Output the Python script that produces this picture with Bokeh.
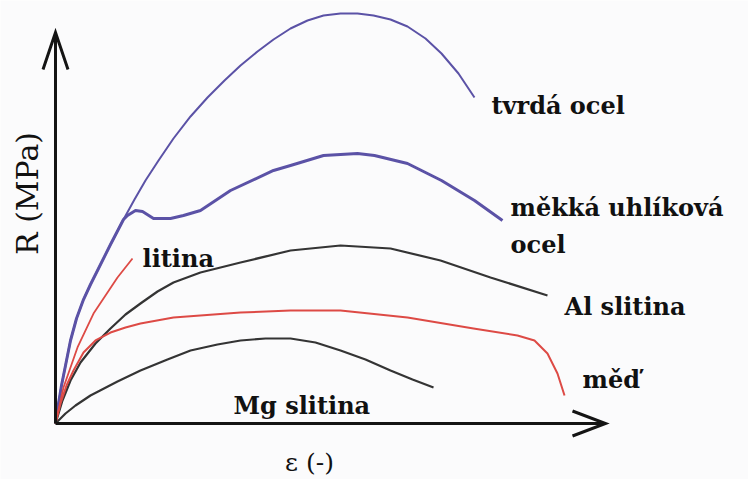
import math
from bokeh.plotting import figure
from bokeh.models import Range1d, ColumnDataSource
from bokeh.core.properties import value
from bokeh.embed import file_html
from bokeh.resources import INLINE

# ---- data (schematic stress-strain curves, arbitrary units: strain 0..100, stress 0..100) ----
tvrda_x = [0, 0.55, 1.09, 1.82, 2.73, 3.82, 5.09, 6.36, 7.82, 10.0, 12.36, 14.36, 16.36, 18.73, 21.45, 24.55,
           27.64, 30.73, 33.64, 36.73, 39.64, 42.73, 45.82, 48.73, 51.82, 54.91, 57.82, 60.91, 64.0, 67.27,
           70.18, 73.27, 76.18]
tvrda_y = [0, 5.12, 9.72, 14.83, 21.23, 26.85, 31.71, 35.55, 39.64, 45.78, 52.17, 57.29, 62.15, 67.26, 72.89, 78.52,
           83.38, 87.72, 91.56, 95.14, 98.21, 101.02, 103.07, 104.35, 104.86, 104.86, 104.35, 103.32, 101.53, 98.47,
           94.63, 89.51, 83.38]

mekka_x = [0, 0.55, 1.09, 1.82, 2.73, 3.82, 5.09, 6.36, 7.82, 10.0, 12.36, 13.09, 14.55, 15.82, 17.82, 20.91,
           23.27, 26.36, 31.82, 39.64, 42.73, 48.73, 54.91, 58.0, 64.0, 70.18, 76.18, 81.27]
mekka_y = [0, 5.12, 9.72, 14.83, 21.23, 26.85, 31.71, 35.55, 39.64, 45.78, 52.17, 53.20, 54.48, 54.22, 52.43, 52.43,
           53.20, 54.48, 59.59, 64.71, 65.98, 68.54, 69.05, 68.54, 66.50, 62.15, 57.03, 51.92]

litina_x = [0, 0.73, 1.45, 4.0, 6.91, 11.27, 14.0]
litina_y = [0, 4.60, 9.21, 19.44, 28.13, 37.34, 42.2]

al_x = [0, 1.27, 2.73, 4.55, 7.27, 10.0, 12.73, 15.45, 18.55, 21.45, 26.36, 33.64, 42.73, 51.82, 60.91, 70.0,
        79.09, 89.45]
al_y = [0, 5.88, 11.0, 15.6, 20.46, 24.3, 27.88, 30.69, 33.76, 36.06, 38.62, 41.18, 44.25, 45.52, 44.76, 41.69,
        37.34, 32.74]

med_x = [0, 0.91, 2.0, 3.27, 5.09, 7.27, 10.0, 12.73, 15.45, 21.45, 33.64, 42.73, 51.82, 64.0, 76.0, 84.0,
         87.09, 89.45, 91.27, 92.55]
med_y = [0, 5.12, 9.72, 13.55, 18.16, 21.23, 23.27, 24.55, 25.58, 27.11, 28.39, 28.90, 28.90, 27.11, 24.30, 22.51,
         21.23, 17.90, 12.79, 7.16]

mg_x = [0, 1.82, 3.64, 6.36, 11.27, 15.45, 20.36, 24.55, 29.45, 33.64, 38.18, 42.73, 47.27, 51.82, 56.36, 60.91,
        64.91, 68.73]
mg_y = [0, 2.56, 4.60, 7.16, 10.74, 13.55, 16.37, 18.67, 20.20, 21.23, 21.74, 21.74, 20.72, 18.67, 16.37, 13.55,
        11.25, 9.21]

label_text = ["tvrdá ocel", "měkká uhlíková", "ocel", "litina", "Al slitina", "měď", "Mg slitina"]
label_x = [79.27, 82.73, 82.73, 15.82, 92.55, 95.82, 32.36]
label_y = [81.3, 55.2, 45.8, 42.2, 29.9, 11.25, 4.6]

axis_max_x = 100
axis_max_y = 100
x_title = "ε (-)"
y_title = "R (MPa)"

# ---- figure ----
W, H = 748, 479
sx, sy = 5.5, 3.91            # px per data unit
ox, oy = 55, 423              # origin position in px (from top-left)
x0, x1 = -ox / sx, (W - ox) / sx
y0, y1 = -(H - oy) / sy, oy / sy

p = figure(width=W, height=H, output_backend="svg", toolbar_location=None,
           x_range=Range1d(x0, x1), y_range=Range1d(y0, y1),
           x_axis_type=None, y_axis_type=None, min_border=0,
           background_fill_color="#fbfbfc", border_fill_color="#fbfbfc",
           outline_line_color=None)
p.xgrid.visible = False
p.ygrid.visible = False

BLUE = "#5b52a6"
BLACK = "#343434"
RED = "#dd4a45"

p.line(tvrda_x, tvrda_y, line_color=BLUE, line_width=2.0, line_join="round")
p.line(mekka_x, mekka_y, line_color=BLUE, line_width=3.0, line_join="round")
p.line(al_x, al_y, line_color=BLACK, line_width=2.2, line_join="round")
p.line(mg_x, mg_y, line_color=BLACK, line_width=2.2, line_join="round")
p.line(med_x, med_y, line_color=RED, line_width=2.0, line_join="round")
p.line(litina_x, litina_y, line_color=RED, line_width=1.8, line_join="round")

# axes with open arrow heads
AX = "#141414"
p.line([0, 0], [0, axis_max_y], line_color=AX, line_width=3)
p.line([0, axis_max_x], [0, 0], line_color=AX, line_width=3)
hl, hw = 37, 12.5
p.line([-hw / sx, 0, hw / sx], [axis_max_y - hl / sy, axis_max_y, axis_max_y - hl / sy],
       line_color=AX, line_width=3, line_join="miter")
hl2 = 33
p.line([axis_max_x - hl2 / sx, axis_max_x, axis_max_x - hl2 / sx], [hw / sy, 0, -hw / sy],
       line_color=AX, line_width=3, line_join="miter")

src = ColumnDataSource(dict(x=label_x, y=label_y, t=label_text))
p.text("x", "y", text="t", source=src, text_font=value("DejaVu Serif"),
       text_font_style="bold", text_font_size="24px", text_color="#111111",
       text_align="left", text_baseline="alphabetic")

p.text([-28 / sx], [230 / sy], text=[y_title], angle=math.pi / 2,
       text_font=value("DejaVu Serif"), text_font_size="30px", text_color="#111111",
       text_align="center", text_baseline="middle")
p.text([254 / sx], [-39 / sy], text=[x_title],
       text_font=value("DejaVu Serif"), text_font_size="25px", text_color="#111111",
       text_align="center", text_baseline="middle")

open("out.html", "w").write(file_html(p, INLINE))
